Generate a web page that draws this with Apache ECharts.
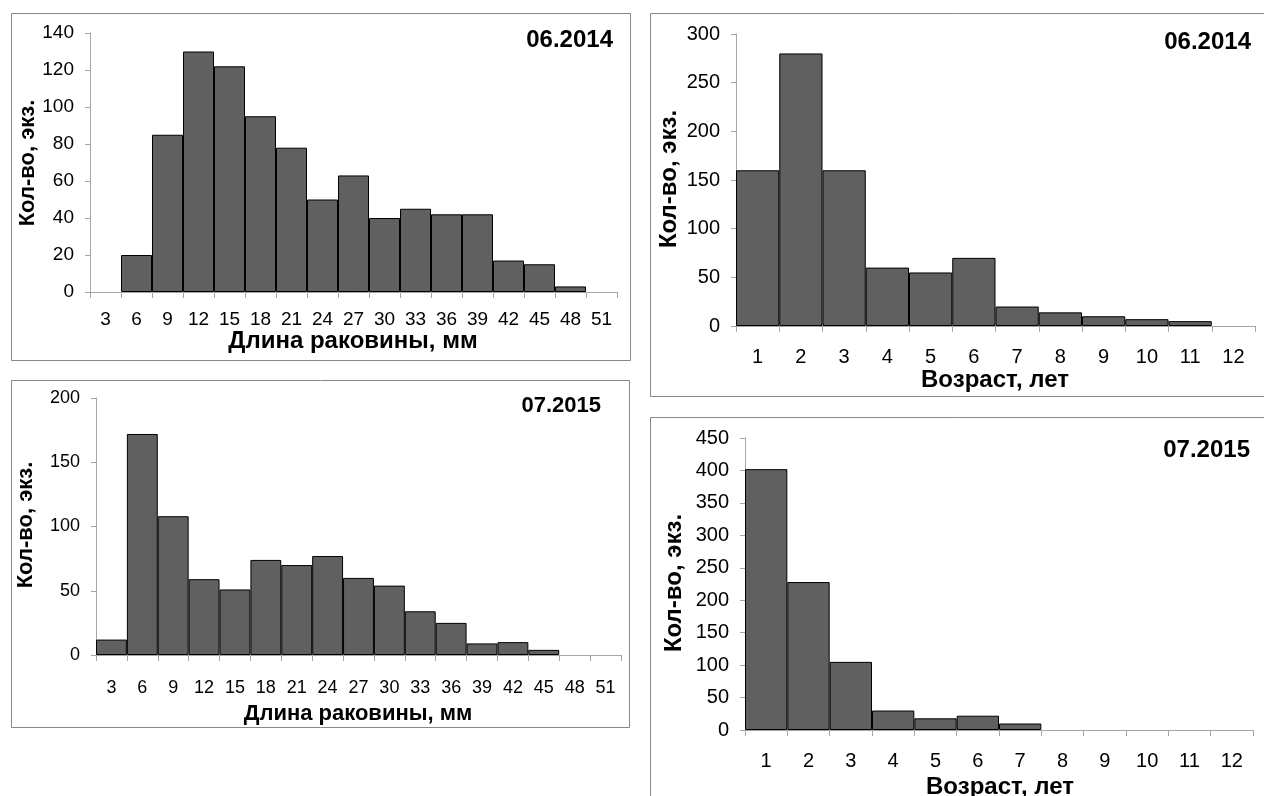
<!DOCTYPE html>
<html>
<head>
<meta charset="utf-8">
<script src="https://cdn.jsdelivr.net/npm/echarts@6/dist/echarts.min.js"></script>
<style>
html,body{margin:0;padding:0;background:#fff;}
#chart{width:1264px;height:796px;}
</style>
</head>
<body>
<div id="chart"></div>
<script>
// Categories
const lengthCats = ['3','6','9','12','15','18','21','24','27','30','33','36','39','42','45','48','51'];
const ageCats = ['1','2','3','4','5','6','7','8','9','10','11','12'];
// Series values
const length2014 = [0,20,85,130,122,95,78,50,63,40,45,42,42,17,15,3,0];
const length2015 = [12,172,108,59,51,74,70,77,60,54,34,25,9,10,4,0,0];
const age2014 = [160,280,160,60,55,70,20,14,10,7,5,0];
const age2015 = [402,228,105,30,18,22,10,0,0,0,0,0];
// Text
const dateLabels = ['06.2014','07.2015','06.2014','07.2015'];
const xTitleLength = 'Длина раковины, мм';
const xTitleAge = 'Возраст, лет';
const yTitle = 'Кол-во, экз.';

const chart = echarts.init(document.getElementById('chart'), null, {renderer:'canvas'});

const AX = '#a6a6a6';
const BAR = '#606060';
const ARIAL = "'Liberation Sans', Arial, sans-serif";

const grids = [
  {left:90, top:33, width:527, height:259},
  {left:96, top:398, width:525, height:257},
  {left:736, top:34, width:519, height:292},
  {left:745, top:438, width:508, height:292}
];
const yMax = [140,200,300,450];
const yInt = [20,50,50,50];
const tickSize = [19,18,20,20];
const xMargin = [18,24,21,21];
const cats = [lengthCats, lengthCats, ageCats, ageCats];
const vals = [length2014, length2015, age2014, age2015];

const xAxes = grids.map((g,i)=>({
  type:'category', gridIndex:i, data:cats[i], boundaryGap:true,
  axisLine:{show:true, lineStyle:{color:AX, width:1}},
  axisTick:{show:true, alignWithLabel:false, length:6, lineStyle:{color:AX}},
  axisLabel:{color:'#000', fontFamily:ARIAL, fontSize:tickSize[i], margin:xMargin[i], interval:0},
  splitLine:{show:false}
}));
const yAxes = grids.map((g,i)=>({
  type:'value', gridIndex:i, min:0, max:yMax[i], interval:yInt[i],
  axisLine:{show:true, lineStyle:{color:AX, width:1}},
  axisTick:{show:true, length:5, lineStyle:{color:AX}},
  axisLabel:{color:'#000', fontFamily:ARIAL, fontSize:tickSize[i], margin:16},
  splitLine:{show:false}
}));
const series = vals.map((v,i)=>({
  type:'bar', xAxisIndex:i, yAxisIndex:i,
  data:v.map(d=> d===0 ? null : d),
  barCategoryGap:'0%',
  itemStyle:{color:BAR, borderColor:'#000', borderWidth:1},
  silent:true, animation:false
}));

function bold(px){ return "bold " + px + "px 'Liberation Sans', Arial, sans-serif"; }
function txt(x,y,text,px,align,rot){
  return {
    type:'text', x:x, y:y, silent:true, rotation:rot||0,
    style:{text:text, font:bold(px), fill:'#000', align:align||'center', verticalAlign:'middle'}
  };
}
function rect(x1,y1,x2,y2){
  return {type:'rect', silent:true, shape:{x:x1,y:y1,width:x2-x1,height:y2-y1},
    style:{fill:'none', stroke:'#888', lineWidth:1}};
}
const R = Math.PI/2;

const graphic = [
  rect(11.5,13.5,630.5,360.5),
  rect(11.5,380.5,629.5,727.5),
  rect(650.5,13.5,1270,396.5),
  rect(650.5,417.5,1270,810),
  // dates
  txt(613,40,dateLabels[0],24,'right'),
  txt(601,406,dateLabels[1],22,'right'),
  txt(1251,42,dateLabels[2],24,'right'),
  txt(1250,450,dateLabels[3],24,'right'),
  // x titles
  txt(353,341,xTitleLength,24),
  txt(358,714,xTitleLength,22),
  txt(995,380,xTitleAge,24),
  txt(1000,787,xTitleAge,24),
  // y titles
  txt(28,163,yTitle,22,'center',R),
  txt(26,525,yTitle,22,'center',R),
  txt(669,179,yTitle,24,'center',R),
  txt(674,583,yTitle,24,'center',R)
];

chart.setOption({
  backgroundColor:'#fff',
  animation:false,
  grid:grids.map(g=>Object.assign({containLabel:false}, g)),
  xAxis:xAxes,
  yAxis:yAxes,
  series:series,
  graphic:graphic
});
</script>
</body>
</html>
